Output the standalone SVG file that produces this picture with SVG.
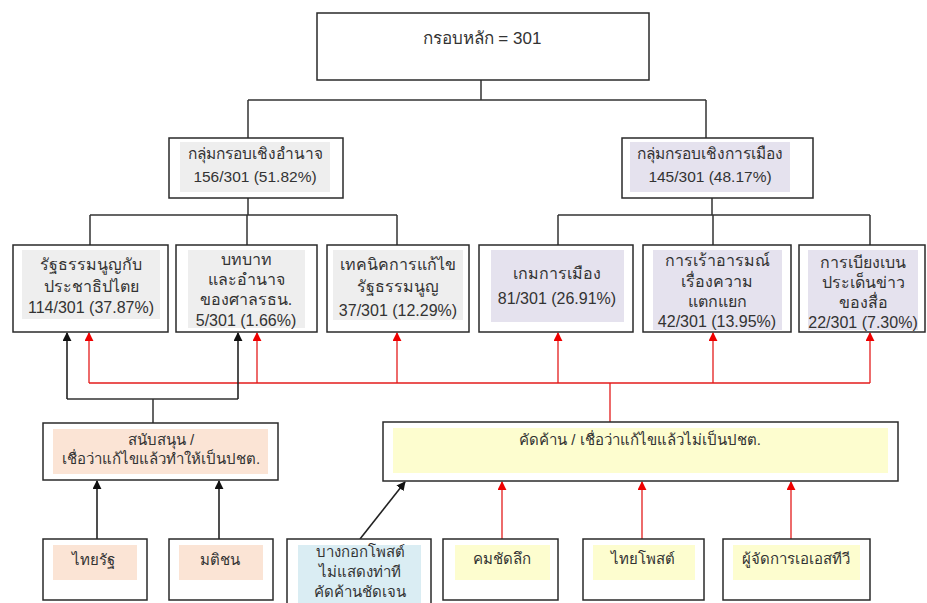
<svg xmlns="http://www.w3.org/2000/svg" width="927" height="603" viewBox="0 0 927 603">
<style>
.box{fill:#fff;stroke:#2a2a2a;stroke-width:1.5}
.g{fill:#eeeeee}.p{fill:#e5e2ee}.o{fill:#fbe4d5}.y{fill:#fdfdcf}.b{fill:#daedf3}
text{font-family:"Liberation Sans","Noto Sans",sans-serif;font-size:15px;fill:#333;text-anchor:middle}
.l2 text{font-size:16px}
.k{fill:none;stroke:#333;stroke-width:1.5}
.r{fill:none;stroke:#e31c1c;stroke-width:1.3}
.ka{fill:none;stroke:#222;stroke-width:1.6}
</style>
<defs>
<marker id="ab" viewBox="0 0 10 10" refX="9" refY="5" markerWidth="9" markerHeight="9" markerUnits="userSpaceOnUse" orient="auto"><path d="M0,0L10,5L0,10z" fill="#111"/></marker>
<marker id="ar" viewBox="0 0 10 10" refX="9" refY="5" markerWidth="9" markerHeight="9" markerUnits="userSpaceOnUse" orient="auto"><path d="M0,0L10,5L0,10z" fill="#e00"/></marker>
</defs>
<rect width="927" height="603" fill="#fff"/>
<g id="connectors">
<path class="k" d="M481,80V100M248,100H706M248,100V138M706,100V138"/>
<path class="k" d="M248,198V215M90,215H397M90,215V245M247,215V245M397,215V245"/>
<path class="k" d="M712,198V215M558,215H870M558,215V245M713,215V245M870,215V245"/>
<path class="r" d="M89,383H870M610,383V422"/>
<path class="r" marker-end="url(#ar)" d="M89,383V333"/>
<path class="r" marker-end="url(#ar)" d="M257,383V333"/>
<path class="r" marker-end="url(#ar)" d="M397,383V333"/>
<path class="r" marker-end="url(#ar)" d="M558,383V333"/>
<path class="r" marker-end="url(#ar)" d="M713,383V333"/>
<path class="r" marker-end="url(#ar)" d="M870,383V333"/>
<path class="k" d="M153,423V399M67,399H238"/>
<path class="ka" marker-end="url(#ab)" d="M67,399V333"/>
<path class="ka" marker-end="url(#ab)" d="M238,399V333"/>
<path class="ka" marker-end="url(#ab)" d="M97,539V481"/>
<path class="ka" marker-end="url(#ab)" d="M219,539V481"/>
<path class="ka" marker-end="url(#ab)" d="M360,539L405,482"/>
<path class="r" marker-end="url(#ar)" d="M502,539V482"/>
<path class="r" marker-end="url(#ar)" d="M642,539V482"/>
<path class="r" marker-end="url(#ar)" d="M791,539V482"/>
</g>
<g id="root">
<rect class="box" x="317" y="13" width="332" height="67"/>
<text x="482" y="44" style="font-size:17px">กรอบหลัก = 301</text>
</g>
<g id="power-group">
<rect class="box" x="169" y="138" width="174" height="60"/>
<rect class="g" x="180" y="142" width="150" height="50"/>
<text x="255" y="159" style="font-size:15.5px">กลุ่มกรอบเชิงอำนาจ</text>
<text x="255" y="182" style="font-size:15.5px">156/301 (51.82%)</text>
</g>
<g id="politics-group">
<rect class="box" x="622" y="138" width="191" height="60"/>
<rect class="p" x="630" y="142" width="160" height="50"/>
<text x="710" y="159" style="font-size:15.5px">กลุ่มกรอบเชิงการเมือง</text>
<text x="710" y="182" style="font-size:15.5px">145/301 (48.17%)</text>
</g>
<g id="constitution-democracy" class="l2">
<rect class="box" x="13" y="245" width="155" height="87"/>
<rect class="g" x="22" y="250" width="138" height="69"/>
<text x="91" y="270">รัฐธรรมนูญกับ</text>
<text x="91" y="292">ประชาธิปไตย</text>
<text x="91" y="313">114/301 (37.87%)</text>
</g>
<g id="court-role" class="l2">
<rect class="box" x="176" y="245" width="141" height="87"/>
<rect class="g" x="188" y="250" width="117" height="78"/>
<text x="246" y="265">บทบาท</text>
<text x="246" y="285">และอำนาจ</text>
<text x="246" y="305">ของศาลรธน.</text>
<text x="246" y="326">5/301 (1.66%)</text>
</g>
<g id="amend-technique" class="l2">
<rect class="box" x="327" y="245" width="142" height="87"/>
<rect class="g" x="333" y="250" width="130" height="70"/>
<text x="398" y="270">เทคนิคการแก้ไข</text>
<text x="398" y="292">รัฐธรรมนูญ</text>
<text x="398" y="316">37/301 (12.29%)</text>
</g>
<g id="political-game" class="l2">
<rect class="box" x="479" y="245" width="154" height="87"/>
<rect class="p" x="491" y="250" width="133" height="72"/>
<text x="557" y="279">เกมการเมือง</text>
<text x="557" y="304">81/301 (26.91%)</text>
</g>
<g id="emotion-division" class="l2">
<rect class="box" x="643" y="245" width="148" height="87"/>
<rect class="p" x="653" y="250" width="129" height="80"/>
<text x="717" y="266">การเร้าอารมณ์</text>
<text x="717" y="287">เรื่องความ</text>
<text x="717" y="307">แตกแยก</text>
<text x="717" y="327">42/301 (13.95%)</text>
</g>
<g id="media-deflection" class="l2">
<rect class="box" x="799" y="245" width="126" height="87"/>
<rect class="p" x="808" y="250" width="110" height="80"/>
<text x="863" y="268">การเบียงเบน</text>
<text x="863" y="288">ประเด็นข่าว</text>
<text x="863" y="308">ของสื่อ</text>
<text x="863" y="328">22/301 (7.30%)</text>
</g>
<g id="support">
<rect class="box" x="43" y="423" width="235" height="57"/>
<rect class="o" x="53" y="429" width="215" height="45"/>
<text x="161" y="445">สนับสนุน /</text>
<text x="161" y="464">เชื่อว่าแก้ไขแล้วทำให้เป็นปชต.</text>
</g>
<g id="oppose">
<rect class="box" x="383" y="422" width="515" height="59"/>
<rect class="y" x="393" y="428" width="495" height="45"/>
<text x="640" y="445">คัดค้าน / เชื่อว่าแก้ไขแล้วไม่เป็นปชต.</text>
</g>
<g id="thairath">
<rect class="box" x="43" y="539" width="104" height="61"/>
<rect class="o" x="53" y="545" width="84" height="35"/>
<text x="93" y="565">ไทยรัฐ</text>
</g>
<g id="matichon">
<rect class="box" x="169" y="539" width="104" height="61"/>
<rect class="o" x="179" y="545" width="84" height="35"/>
<text x="220" y="565">มติชน</text>
</g>
<g id="bangkokpost">
<rect class="box" x="287" y="539" width="144" height="75"/>
<rect class="b" x="298" y="545" width="123" height="70"/>
<text x="360" y="557">บางกอกโพสต์</text>
<text x="360" y="577">ไม่แสดงท่าที</text>
<text x="360" y="597">คัดค้านชัดเจน</text>
</g>
<g id="komchadluek">
<rect class="box" x="443" y="539" width="115" height="61"/>
<rect class="y" x="455" y="545" width="95" height="35"/>
<text x="502" y="564">คมชัดลึก</text>
</g>
<g id="thaipost">
<rect class="box" x="583" y="539" width="121" height="61"/>
<rect class="y" x="593" y="545" width="102" height="35"/>
<text x="643" y="564">ไทยโพสต์</text>
</g>
<g id="manager-astv">
<rect class="box" x="723" y="539" width="147" height="61"/>
<rect class="y" x="733" y="545" width="127" height="35"/>
<text x="796" y="564">ผู้จัดการเอเอสทีวี</text>
</g>
</svg>
